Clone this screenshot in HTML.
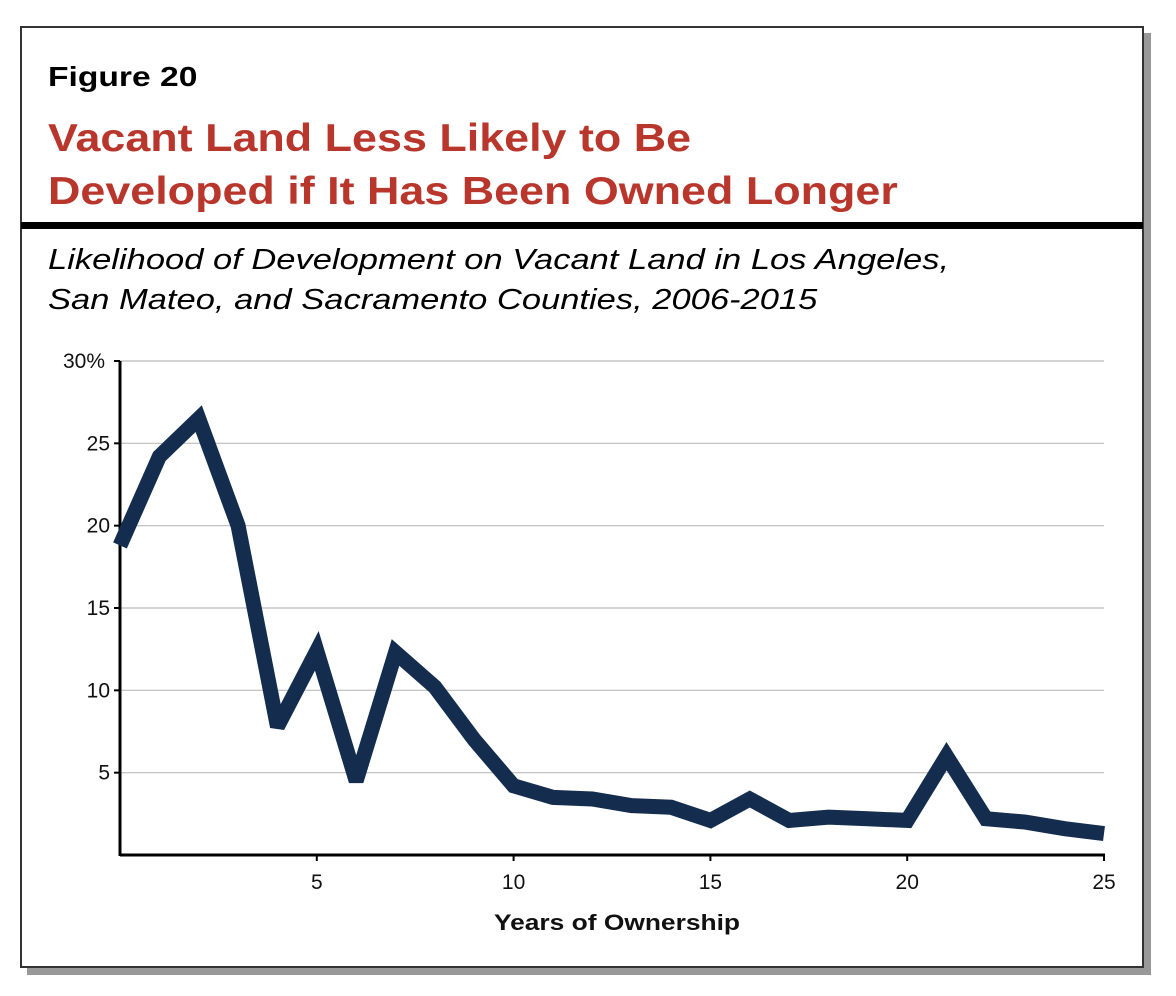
<!DOCTYPE html>
<html><head><meta charset="utf-8"><style>
body{margin:0;width:1176px;height:996px;background:#fff;position:relative;font-family:"Liberation Sans",sans-serif;overflow:hidden}
#frame{position:absolute;left:20px;top:26px;width:1124px;height:942px;border:2px solid #333;background:#fff;box-shadow:7px 7px 0 #999;box-sizing:border-box}
.t{position:absolute;white-space:nowrap;transform-origin:0 0}
</style></head><body>
<div id="frame"></div>
<div class="t" style="left:48px;top:61px;font-size:28px;font-weight:bold;transform:scaleX(1.2)">Figure 20</div>
<div class="t" style="left:48px;top:112px;font-size:39px;font-weight:bold;color:#b8362b;line-height:53px;transform:scaleX(1.15)">Vacant Land Less Likely to Be<br>Developed if It Has Been Owned Longer</div>
<div style="position:absolute;left:21px;top:222px;width:1122px;height:7px;background:#000"></div>
<div class="t" style="left:48px;top:240px;font-size:29px;font-style:italic;line-height:40px;transform:scaleX(1.19)">Likelihood of Development on Vacant Land in Los Angeles,<br>San Mateo, and Sacramento Counties, 2006-2015</div>
<svg id="chart" width="1176" height="996" style="position:absolute;left:0;top:0"></svg>
<script>
const years=[0,1,2,3,4,5,6,7,8,9,10,11,12,13,14,15,16,17,18,19,20,21,22,23,24,25];
const values=[18.8,24.2,26.5,20,7.8,12.4,4.5,12.3,10.2,7,4.2,3.5,3.4,3.0,2.9,2.1,3.4,2.1,2.3,2.2,2.1,6.0,2.2,2.0,1.6,1.3];
const yTicks=[5,10,15,20,25,30];
const yLabels=["5","10","15","20","25","30%"];
const xTicks=[5,10,15,20,25];
const NS="http://www.w3.org/2000/svg";
const svg=document.getElementById('chart');
const X=v=>120+v*(1104-120)/25;
const Y=v=>855-v*(855-361)/30;
function el(t,a){const e=document.createElementNS(NS,t);for(const k in a)e.setAttribute(k,a[k]);svg.appendChild(e);return e;}
yTicks.forEach((t,i)=>{
  const g=el('line',{x1:X(0),x2:1104,y1:Y(t),y2:Y(t),stroke:'#bbb','stroke-width':1.2});
  
  
  const tk=el('line',{x1:X(0)-6,x2:X(0),y1:Y(t),y2:Y(t),stroke:'#000','stroke-width':2});
  
  
  const tx=el('text',{x:t==30?105:X(0)-10,y:Y(t)+7,'text-anchor':'end','font-size':21,'font-family':'Liberation Sans, sans-serif',fill:'#111'});
  tx.textContent=yLabels[i];
  
  
});
const ya=el('line',{x1:X(0),x2:X(0),y1:Y(30),y2:Y(0)+1,stroke:'#000','stroke-width':3});


const xa=el('line',{x1:X(0),x2:X(25)+1,y1:Y(0),y2:Y(0),stroke:'#000','stroke-width':3});


xTicks.forEach(t=>{
  const tk=el('line',{x1:X(t),x2:X(t),y1:Y(0),y2:Y(0)+6,stroke:'#000','stroke-width':2});
  
  
  const tx=el('text',{x:X(t),y:Y(0)+34,'text-anchor':'middle','font-size':21,'font-family':'Liberation Sans, sans-serif',fill:'#111'});
  tx.textContent=String(t);
  
  
});
const xt=el('text',{x:494,y:930,'font-size':22,'font-weight':'bold','font-family':'Liberation Sans, sans-serif',fill:'#111',textLength:246,lengthAdjust:'spacingAndGlyphs'});
xt.textContent='Years of Ownership';


const line=el('polyline',{points:years.map((y,i)=>X(y)+','+Y(values[i])).join(' '),fill:'none',stroke:'#142d4f','stroke-width':15,'stroke-linejoin':'miter','stroke-miterlimit':3});


</script>
</body></html>
